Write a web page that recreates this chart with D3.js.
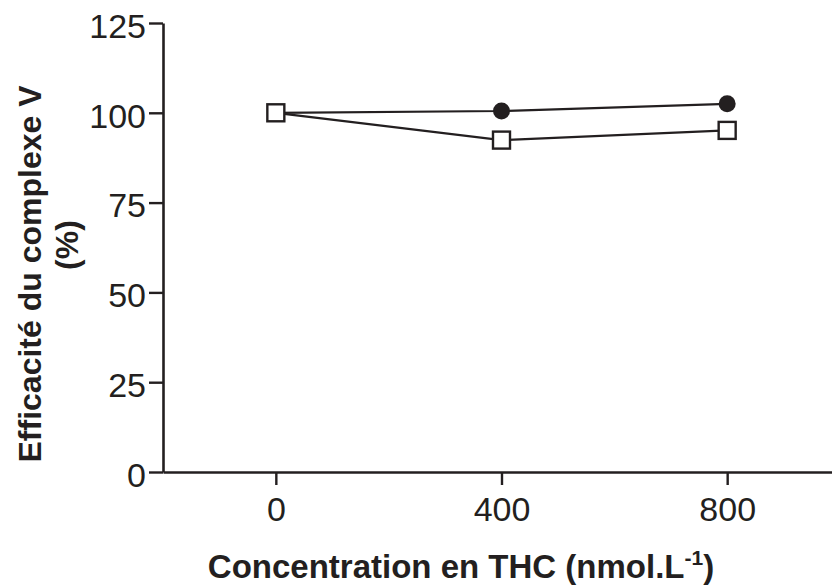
<!DOCTYPE html>
<html><head><meta charset="utf-8">
<script src="https://cdn.jsdelivr.net/npm/d3@7"></script>
<style>body{margin:0;background:#fff}svg{display:block}</style>
</head><body>
<svg id="c" width="832" height="586"></svg>
<script>
const concentrations = [0, 400, 800];
const seriesFilled = [100, 100.5, 102.5];
const seriesOpen = [100, 92.4, 95.1];
const yTicks = [0, 25, 50, 75, 100, 125];
const xTicks = [0, 400, 800];

const svg = d3.select("#c");
const font = "'Liberation Sans', Arial, sans-serif";
const x = d3.scaleLinear().domain([-200, 1000]).range([163, 840]);
const y = d3.scaleLinear().domain([0, 125]).range([472, 23]);

const yAxis = svg.append("g").attr("transform", "translate(163,0)")
  .call(d3.axisLeft(y).tickValues(yTicks).tickSize(14).tickPadding(3).tickSizeOuter(0));
const xAxis = svg.append("g").attr("transform", "translate(0,472)")
  .call(d3.axisBottom(x).tickValues(xTicks).tickSize(13).tickPadding(12).tickSizeOuter(0));
[yAxis, xAxis].forEach(g => {
  g.attr("font-size", null).attr("font-family", null);
  g.select(".domain").attr("stroke", "#231f20").attr("stroke-width", 2.6);
  g.selectAll(".tick line").attr("stroke", "#231f20").attr("stroke-width", 2.4);
  g.selectAll("text").style("font-family", font).style("font-size", "34px").attr("fill", "#231f20");
});
yAxis.selectAll("text").attr("dy", "0.42em");

const line = d3.line().x((d, i) => x(concentrations[i])).y(d => y(d));
svg.append("path").datum(seriesFilled).attr("d", line).attr("fill", "none").attr("stroke", "#231f20").attr("stroke-width", 2.2);
svg.append("path").datum(seriesOpen).attr("d", line).attr("fill", "none").attr("stroke", "#231f20").attr("stroke-width", 2.2);

svg.selectAll("circle.f").data(seriesFilled).enter().append("circle")
  .attr("cx", (d, i) => x(concentrations[i])).attr("cy", d => y(d)).attr("r", 8.5).attr("fill", "#231f20");
const s = 17;
svg.selectAll("rect.o").data(seriesOpen).enter().append("rect")
  .attr("x", (d, i) => x(concentrations[i]) - s / 2).attr("y", d => y(d) - s / 2)
  .attr("width", s).attr("height", s).attr("fill", "#fff").attr("stroke", "#231f20").attr("stroke-width", 2.4);

const xt = svg.append("text").attr("x", 461).attr("y", 578).attr("text-anchor", "middle")
  .style("font-family", font).style("font-size", "33px").attr("font-weight", "bold").attr("fill", "#231f20");
xt.append("tspan").text("Concentration en THC (nmol.L");
xt.append("tspan").text("-1").style("font-size", "21px").attr("dy", -13);
xt.append("tspan").text(")").attr("dy", 13);

svg.append("text").attr("transform", "translate(41,274) rotate(-90)").attr("text-anchor", "middle")
  .style("font-family", font).style("font-size", "32px").attr("font-weight", "bold").attr("fill", "#231f20")
  .text("Efficacité du complexe V");
svg.append("text").attr("transform", "translate(78,245) rotate(-90)").attr("text-anchor", "middle")
  .style("font-family", font).style("font-size", "32px").attr("font-weight", "bold").attr("fill", "#231f20")
  .text("(%)");
</script>
</body></html>
